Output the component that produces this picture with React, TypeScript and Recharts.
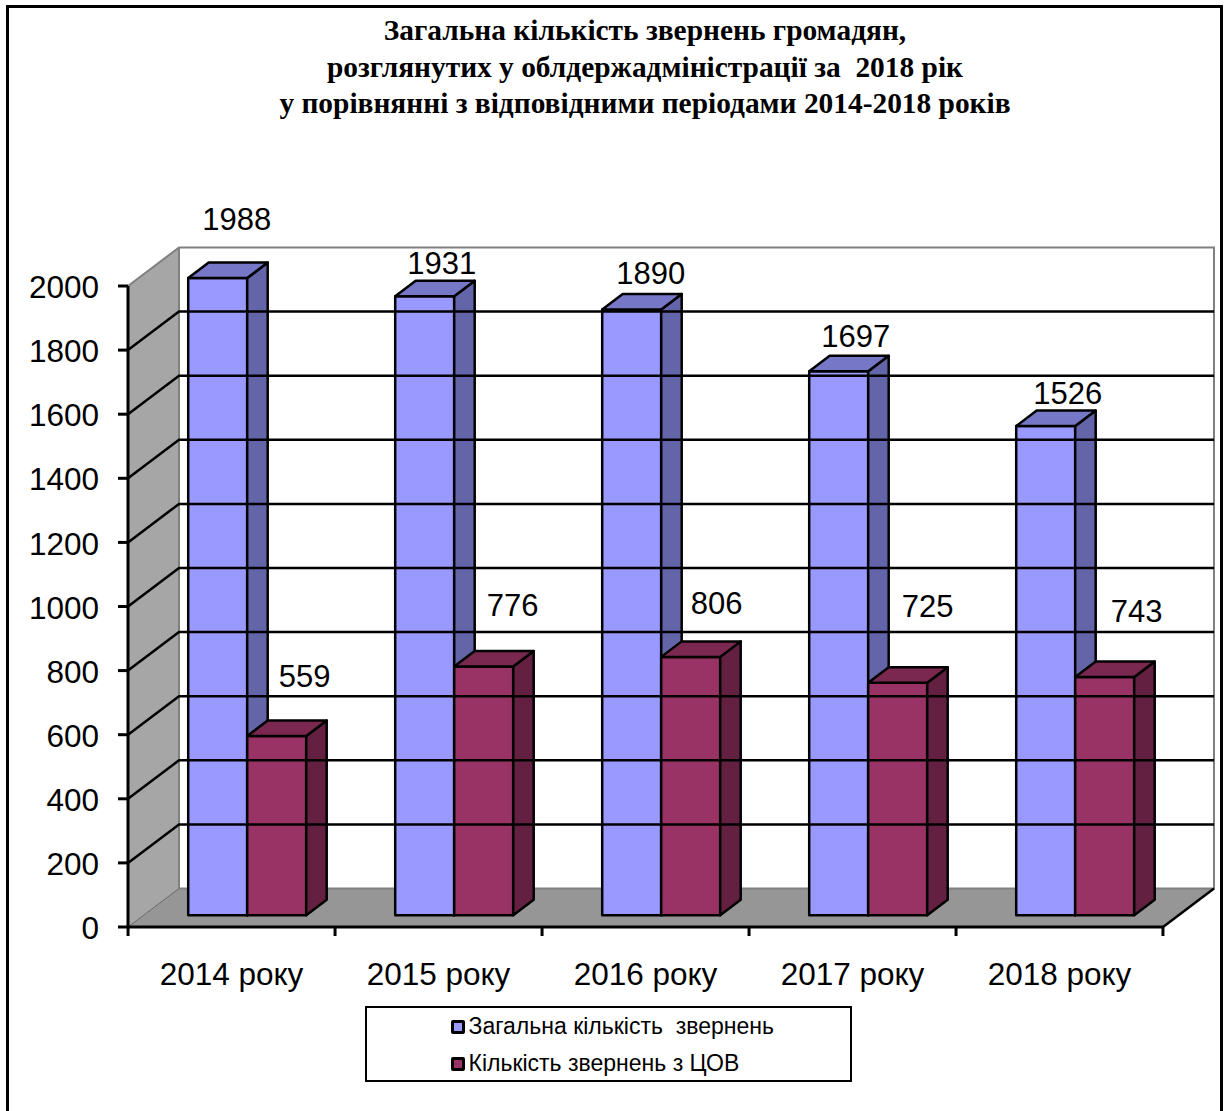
import { Bar, BarChart, LabelList, Legend, ReferenceArea, ReferenceLine, XAxis, YAxis } from 'recharts';

const years = ['2014 року', '2015 року', '2016 року', '2017 року', '2018 року'];
const totalRequests = [1988, 1931, 1890, 1697, 1526];
const covRequests = [559, 776, 806, 725, 743];
const valueTicks = [0, 200, 400, 600, 800, 1000, 1200, 1400, 1600, 1800, 2000];
const innerGridTicks = [200, 400, 600, 800, 1000, 1200, 1400, 1600, 1800];
const titleLines = [
  'Загальна кількість звернень громадян,',
  'розглянутих у облдержадміністрації за  2018 рік',
  'у порівнянні з відповідними періодами 2014-2018 років',
];

// hand placed labels in the original, so each one has its own nudge from the bar top
const totalNudges = [[19, -59], [17, -33], [19, -36], [17, -35], [22, -33]];
const covNudges = [[28, -60], [29, -61], [26, -53], [30, -76], [32, -66]];

const chartData = years.map((year, i) => ({ year, total: totalRequests[i], cov: covRequests[i] }));

const SANS = '"Liberation Sans", Arial, sans-serif';
const BAND = 206.9;
const WALL_DX = 51;
const WALL_DY = -38.5;
const BAR_DX = 20.5;
const BAR_DY = -15.5;
const BAR_SHIFT_X = 15.2;
const BAR_SHIFT_Y = -11.8;
const WALL_EDGE = '#808080';

const Walls = ({ x, y, width, height }: any) => {
  const bottom = y + height;
  const right = x + width;
  return (
    <g>
      <polygon
        points={`${x},${y} ${x + WALL_DX},${y + WALL_DY} ${x + WALL_DX},${bottom + WALL_DY} ${x},${bottom}`}
        fill="#a6a6a6"
      />
      <polygon
        points={`${x},${bottom} ${x + WALL_DX},${bottom + WALL_DY} ${right + WALL_DX},${bottom + WALL_DY} ${right},${bottom}`}
        fill="#969696"
      />
      <path
        d={`M${x},${y} L${x + WALL_DX},${y + WALL_DY} H${right + WALL_DX} V${bottom + WALL_DY} H${x + WALL_DX} V${y + WALL_DY}`}
        fill="none"
        stroke={WALL_EDGE}
        strokeWidth={2}
      />
      <path d={`M${x},${bottom} L${x + WALL_DX},${bottom + WALL_DY}`} stroke="#666" strokeWidth={1} />
      <path d={`M${right},${bottom} L${right + WALL_DX},${bottom + WALL_DY}`} stroke="#000" strokeWidth={2.5} />
    </g>
  );
};

const GridLine = ({ x1, y1, x2 }: any) => (
  <polyline
    points={`${x1},${y1} ${x1 + WALL_DX},${y1 + WALL_DY} ${x2 + WALL_DX},${y1 + WALL_DY}`}
    fill="none"
    stroke="#000"
    strokeWidth={2.5}
  />
);

const Box = ({ x, y, width, height, front, side, top }: any) => {
  const left = x + BAR_SHIFT_X;
  const yTop = y + BAR_SHIFT_Y;
  const right = left + width;
  const yBottom = yTop + height;
  return (
    <g stroke="#000" strokeWidth={2.5} strokeLinejoin="round">
      <rect x={left} y={yTop} width={width} height={height} fill={front} />
      <polygon
        points={`${right},${yTop} ${right + BAR_DX},${yTop + BAR_DY} ${right + BAR_DX},${yBottom + BAR_DY} ${right},${yBottom}`}
        fill={side}
      />
      <polygon
        points={`${left},${yTop} ${left + BAR_DX},${yTop + BAR_DY} ${right + BAR_DX},${yTop + BAR_DY} ${right},${yTop}`}
        fill={top}
      />
    </g>
  );
};

const BarValue = ({ x, y, width, value, index, nudges }: any) => (
  <text
    x={x + BAR_SHIFT_X + width / 2 + nudges[index][0]}
    y={y + BAR_SHIFT_Y + nudges[index][1]}
    textAnchor="middle"
    dominantBaseline="central"
    fontFamily={SANS}
    fontSize={31}
    fill="#000"
  >
    {value}
  </text>
);

const YearTick = ({ x, y, payload, index }: any) => (
  <g>
    <line x1={x - BAND / 2} x2={x - BAND / 2} y1={y - 8} y2={y + 1} stroke="#000" strokeWidth={3} />
    {index === years.length - 1 ? (
      <line x1={x + BAND / 2} x2={x + BAND / 2} y1={y - 8} y2={y + 1} stroke="#000" strokeWidth={3} />
    ) : null}
    <text x={x} y={y + 50} textAnchor="middle" fontFamily={SANS} fontSize={31.5} fill="#000">
      {payload.value}
    </text>
  </g>
);

const LegendBox = ({ payload }: any) => (
  <div
    style={{
      boxSizing: 'border-box',
      width: 487,
      height: 76,
      border: '2.5px solid #000',
      background: '#fff',
      paddingLeft: 83.5,
      paddingTop: 2,
      fontFamily: SANS,
      fontSize: 23,
      color: '#000',
    }}
  >
    {(payload ?? []).map((entry: any) => (
      <div key={entry.value} style={{ display: 'flex', alignItems: 'center', height: 33, marginBottom: 4, whiteSpace: 'pre' }}>
        <span
          style={{
            boxSizing: 'border-box',
            width: 14,
            height: 14,
            border: '3px solid #000',
            borderRadius: 2,
            background: entry.color,
            marginRight: 4,
          }}
        />
        {entry.value}
      </div>
    ))}
  </div>
);

export default function App() {
  return (
    <div style={{ position: 'absolute', left: 0, top: 0, width: 1225, height: 1111, background: '#fff', overflow: 'hidden' }}>
      <div
        style={{
          position: 'absolute',
          left: 6,
          top: 5,
          width: 1211,
          height: 1120,
          border: '3px solid #000',
        }}
      />
      <div
        style={{
          position: 'absolute',
          left: -3,
          top: 12,
          width: 1296,
          textAlign: 'center',
          fontFamily: '"Liberation Serif", serif',
          fontWeight: 'bold',
          fontSize: 29.4,
          lineHeight: '36.5px',
          whiteSpace: 'pre',
          color: '#000',
        }}
      >
        {titleLines.map((line) => (
          <div key={line}>{line}</div>
        ))}
      </div>
      <BarChart
        style={{ position: 'absolute', left: 0, top: 0 }}
        width={1225}
        height={1111}
        data={chartData}
        margin={{ top: 286, right: 62, bottom: 0, left: 0 }}
        barSize={59}
        barGap={0}
      >
        <ReferenceArea y1={0} y2={2000} shape={Walls} fillOpacity={1} />
        {innerGridTicks.map((tick) => (
          <ReferenceLine key={tick} y={tick} shape={GridLine} />
        ))}
        <XAxis
          dataKey="year"
          height={184}
          interval={0}
          tickLine={false}
          axisLine={{ stroke: '#000', strokeWidth: 3 }}
          tick={YearTick}
        />
        <YAxis
          width={128}
          domain={[0, 2000]}
          ticks={valueTicks}
          interval={0}
          tickSize={10}
          tickMargin={19}
          axisLine={{ stroke: '#000', strokeWidth: 3 }}
          tickLine={{ stroke: '#000', strokeWidth: 3 }}
          tick={{ fill: '#000', fontFamily: SANS, fontSize: 31.5, dy: 1 }}
        />
        <Legend
          layout="vertical"
          align="center"
          verticalAlign="middle"
          wrapperStyle={{ left: 365, top: 1006, width: 487, height: 76 }}
          content={LegendBox}
        />
        <Bar
          dataKey="total"
          name="Загальна кількість  звернень"
          fill="#9999ff"
          isAnimationActive={false}
          shape={(props: any) => <Box {...props} front="#9999ff" side="#6464a8" top="#7777c8" />}
        >
          <LabelList dataKey="total" content={(props: any) => <BarValue {...props} nudges={totalNudges} />} />
        </Bar>
        <Bar
          dataKey="cov"
          name="Кількість звернень з ЦОВ"
          fill="#993366"
          isAnimationActive={false}
          shape={(props: any) => <Box {...props} front="#993366" side="#632040" top="#7a2850" />}
        >
          <LabelList dataKey="cov" content={(props: any) => <BarValue {...props} nudges={covNudges} />} />
        </Bar>
      </BarChart>
    </div>
  );
}
